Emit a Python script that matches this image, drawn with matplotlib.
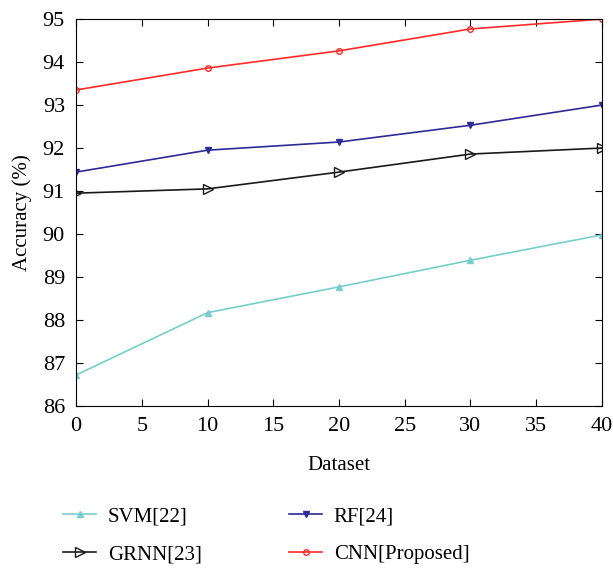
import matplotlib
matplotlib.use("Agg")
import matplotlib.pyplot as plt

plt.rcParams["font.family"] = ["Liberation Serif", "DejaVu Serif"]

dataset = [0, 10, 20, 30, 40]
svm = [86.72, 88.17, 88.77, 89.39, 89.98]
rf = [91.44, 91.95, 92.14, 92.53, 93.0]
grnn = [90.95, 91.05, 91.44, 91.86, 92.0]
cnn = [93.35, 93.86, 94.26, 94.77, 95.0]

fig = plt.figure(figsize=(6.13, 5.69), dpi=100)
ax = fig.add_axes([0.124, 0.2865, 0.858, 0.680])

l1, = ax.plot(dataset, svm, color="#76cfcc", marker="^", ms=5, lw=1.2, label="SVM[22]")
l2, = ax.plot(dataset, rf, color="#2e2a96", marker="v", ms=5, lw=1.2, label="RF[24]")
l3, = ax.plot(dataset, grnn, color="#1a1a1a", marker=">", ms=7, mfc="none", lw=1.2, label="GRNN[23]")
l4, = ax.plot(dataset, cnn, color="#ff2a2a", marker="o", ms=4, mfc="none", lw=1.2, label="CNN[Proposed]")

ax.set_xlim(0, 40)
ax.set_ylim(86, 95)
ax.set_xticks(range(0, 41, 5))
ax.set_yticks(range(86, 96))
ax.tick_params(direction="in", top=True, right=True, labelsize=16, length=5, pad=8)
ax.set_xlabel("Dataset", fontsize=15, labelpad=14)
ax.set_ylabel("Accuracy (%)", fontsize=15, labelpad=8)

fig.legend(handles=[l1, l3, l2, l4], ncol=2, frameon=False, fontsize=15,
           loc="upper left", bbox_to_anchor=(0.072, 0.142), columnspacing=4.2,
           handlelength=1.6, handletextpad=0.55, labelspacing=0.88)

fig.savefig("out.png", dpi=100)
